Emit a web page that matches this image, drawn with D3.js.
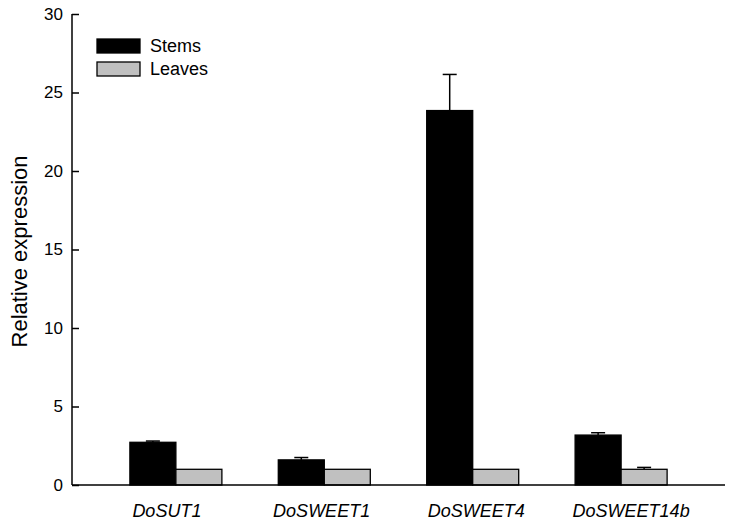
<!DOCTYPE html>
<html>
<head>
<meta charset="utf-8">
<script src="https://cdn.jsdelivr.net/npm/d3@7"></script>
<style>
  body { margin: 0; background: #fff; }
  svg text { font-family: "Liberation Sans", Arial, sans-serif; }
</style>
</head>
<body>
<div id="chart"></div>
<script>
// data
const genes = ["DoSUT1", "DoSWEET1", "DoSWEET4", "DoSWEET14b"];
const stems = [2.72, 1.6, 23.85, 3.18];
const stemsErr = [0.08, 0.15, 2.3, 0.15];
const leaves = [1.0, 1.0, 1.0, 1.0];
const leavesErr = [0, 0, 0, 0.12];
const yTicks = [0, 5, 10, 15, 20, 25, 30];

const margin = { top: 14, right: 8, bottom: 40, left: 72 },
    width = 733 - margin.left - margin.right,
    height = 525 - margin.top - margin.bottom;

const svg = d3.select("#chart")
    .append("svg")
    .attr("width", 733)
    .attr("height", 525);

const g = svg.append("g")
    .attr("transform", `translate(${margin.left},${margin.top})`);

// bar groups
const x = d3.scalePoint()
    .domain(genes)
    .range([0, width])
    .padding(0.7);

// category labels sit on a slightly wider spacing than the bars
const xLabel = d3.scalePoint()
    .domain(genes)
    .range([0, width])
    .padding(0.61);

const y = d3.scaleLinear()
    .domain([0, 30])
    .range([height, 0]);

const barW = 46;

const series = [
  { name: "Stems", vals: stems, err: stemsErr, fill: "#000", off: -barW },
  { name: "Leaves", vals: leaves, err: leavesErr, fill: "#c0c0c0", off: 0 }
];

// error bars (upward only), drawn before bars
series.forEach(s => {
  const eg = g.append("g");
  genes.forEach((gene, i) => {
    if (s.err[i] <= 0) return;
    const cx = x(gene) + s.off + barW / 2;
    eg.append("line")
      .attr("x1", cx).attr("x2", cx)
      .attr("y1", y(s.vals[i])).attr("y2", y(s.vals[i] + s.err[i]))
      .attr("stroke", "#000").attr("stroke-width", 1.5);
    eg.append("line")
      .attr("x1", cx - 7).attr("x2", cx + 7)
      .attr("y1", y(s.vals[i] + s.err[i])).attr("y2", y(s.vals[i] + s.err[i]))
      .attr("stroke", "#000").attr("stroke-width", 1.5);
  });
});

// bars
series.forEach(s => {
  g.append("g")
    .selectAll("rect")
    .data(genes)
    .join("rect")
    .attr("x", d => x(d) + s.off)
    .attr("y", (d, i) => y(s.vals[i]))
    .attr("width", barW)
    .attr("height", (d, i) => y(0) - y(s.vals[i]))
    .attr("fill", s.fill)
    .attr("stroke", "#000")
    .attr("stroke-width", 1.3);
});

// axes (inward ticks on y)
const yAxis = d3.axisLeft(y).tickValues(yTicks).tickSize(-7).tickPadding(9);
const yG = g.append("g").call(yAxis);
yG.select(".domain").attr("d", `M0,0V${height}`).attr("stroke-width", 1.5);
yG.selectAll(".tick line").attr("stroke-width", 1.5);
yG.selectAll("text").style("font-size", "17px").attr("fill", "#000");

const xG = g.append("g")
  .attr("transform", `translate(0,${height})`)
  .call(d3.axisBottom(xLabel).tickSize(0).tickPadding(19));
xG.select(".domain").attr("d", `M0,0H${width}`).attr("stroke-width", 1.5);
xG.selectAll("text")
  .style("font-size", "18px")
  .style("font-style", "italic")
  .attr("fill", "#000");

// y axis title
svg.append("text")
  .attr("transform", `translate(27,${margin.top + height / 2 + 2}) rotate(-90)`)
  .attr("text-anchor", "middle")
  .style("font-size", "22px")
  .text("Relative expression");

// legend
const legend = svg.append("g").attr("transform", "translate(97,39)");
series.forEach((s, i) => {
  legend.append("rect")
    .attr("x", 0).attr("y", i * 23)
    .attr("width", 43).attr("height", 14)
    .attr("fill", s.fill).attr("stroke", "#000").attr("stroke-width", 1.3);
  legend.append("text")
    .attr("x", 53).attr("y", i * 23 + 13)
    .style("font-size", "18px")
    .text(s.name);
});
</script>
</body>
</html>
